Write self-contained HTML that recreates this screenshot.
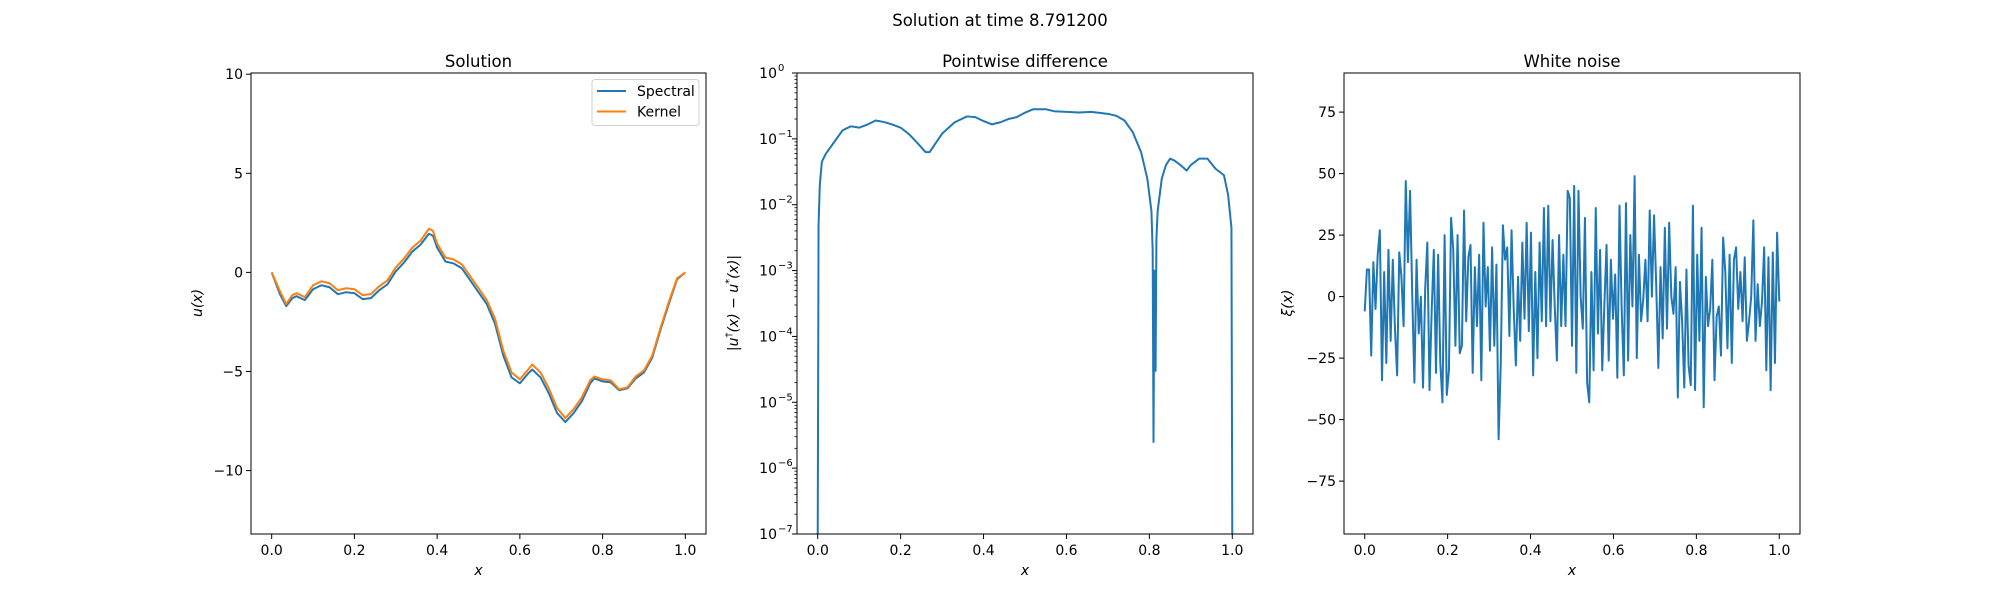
<!DOCTYPE html>
<html><head><meta charset="utf-8">
<style>
html,body{margin:0;padding:0;background:#fff;}
svg{display:block;font-family:"DejaVu Sans","Liberation Sans",sans-serif;}
</style></head>
<body>
<svg id="fig" width="2000" height="600" viewBox="0 0 2000 600" xmlns="http://www.w3.org/2000/svg">
<rect width="2000" height="600" fill="#fff"/>
<text x="1000" y="26" font-size="16.5" text-anchor="middle">Solution at time 8.791200</text>
</svg>
<script>
// ---------- Data ----------
const solX = [0,0.02,0.035,0.05,0.06,0.08,0.1,0.12,0.14,0.16,0.18,0.2,0.22,0.24,0.26,0.28,0.3,0.32,0.34,0.36,0.38,0.39,0.4,0.42,0.44,0.46,0.48,0.5,0.52,0.54,0.56,0.58,0.6,0.62,0.63,0.65,0.67,0.69,0.71,0.73,0.75,0.77,0.78,0.8,0.82,0.84,0.86,0.88,0.9,0.92,0.94,0.96,0.98,1.0];
const spectralY = [0,-1.1,-1.7,-1.3,-1.2,-1.4,-0.85,-0.65,-0.75,-1.1,-1.0,-1.05,-1.35,-1.3,-0.9,-0.6,0.05,0.5,1.05,1.4,1.95,1.85,1.25,0.55,0.45,0.2,-0.4,-1.0,-1.6,-2.6,-4.2,-5.3,-5.6,-5.1,-4.9,-5.3,-6.1,-7.1,-7.55,-7.1,-6.5,-5.6,-5.35,-5.5,-5.55,-5.95,-5.85,-5.35,-5.05,-4.3,-2.9,-1.6,-0.35,0];
const kernelY = [0,-0.95,-1.6,-1.15,-1.05,-1.25,-0.65,-0.45,-0.55,-0.9,-0.8,-0.85,-1.15,-1.1,-0.7,-0.4,0.25,0.7,1.25,1.6,2.2,2.1,1.45,0.75,0.65,0.4,-0.2,-0.8,-1.4,-2.35,-3.95,-5.05,-5.4,-4.9,-4.65,-5.05,-5.85,-6.85,-7.35,-6.9,-6.3,-5.45,-5.25,-5.4,-5.45,-5.9,-5.8,-5.25,-4.95,-4.2,-2.8,-1.5,-0.3,0];
const diffX = [0,0.002,0.005,0.01,0.02,0.04,0.06,0.08,0.1,0.12,0.14,0.16,0.18,0.2,0.22,0.24,0.26,0.27,0.3,0.33,0.36,0.38,0.4,0.42,0.44,0.46,0.48,0.5,0.52,0.55,0.57,0.6,0.63,0.66,0.7,0.72,0.74,0.76,0.78,0.795,0.805,0.808,0.81,0.812,0.815,0.817,0.82,0.83,0.84,0.85,0.86,0.875,0.89,0.9,0.92,0.94,0.96,0.98,0.99,0.998,1.0];
const diffY = [1e-7,5e-3,2e-2,4.5e-2,6e-2,9e-2,0.135,0.155,0.148,0.165,0.19,0.18,0.165,0.148,0.118,0.087,0.063,0.063,0.12,0.178,0.219,0.214,0.186,0.166,0.178,0.2,0.214,0.25,0.282,0.282,0.263,0.257,0.251,0.257,0.24,0.224,0.19,0.126,0.063,0.025,0.008,0.002,2.5e-6,1e-3,3e-5,3e-3,8e-3,0.025,0.04,0.05,0.047,0.04,0.033,0.04,0.05,0.05,0.035,0.028,0.014,0.0045,1e-7];
const noiseY = [-6,11,11,-24,14,-5,17,27,-34,10,-27,19,-18,15,-13,-32,
18,8,-12,47,14,43,1,-35,15,-15,0,-37,3,22,-38,-6,19,-31,17,-27,
-43,25,-40,-30,32,19,-20,25,-23,-20,35,-10,16,21,-31,
12,-12,17,-34,30,-4,12,-22,20,-20,13,-58,-27,29,15,20,-16,27,-5,-28,
8,-18,22,-9,30,-14,
26,-32,10,-25,22,-10,36,-12,37,-10,23,-4,-26,25,-12,17,-12,43,40,-20,
45,-31,43,0,-13,32,-35,-43,10,-30,36,-15,19,-30,-3,21,-26,15,-9,9,
-33,37,-5,-32,38,-26,25,-4,49,-25,17,-10,-1,15,-10,35,0,33,5,-29,
12,-17,28,-13,30,0,-7,12,-41,6,-10,-37,11,-28,-36,37,-38,17,-18,28,
-45,8,-12,-5,15,-34,-8,-4,-24,24,10,-21,17,-27,15,20,-5,10,-10,16,
-18,-10,0,31,-18,5,-12,-2,20,-30,16,-38,18,-27,26,-2];
const xTicks = [0,0.2,0.4,0.6,0.8,1.0];
const xTickLabels = ["0.0","0.2","0.4","0.6","0.8","1.0"];
const solYTicks = [10,5,0,-5,-10];
const solYTickLabels = ["10","5","0","\u22125","\u221210"];
const diffExps = [0,-1,-2,-3,-4,-5,-6,-7];
const noiseYTicks = [75,50,25,0,-25,-50,-75];
const noiseYTickLabels = ["75","50","25","0","\u221225","\u221250","\u221275"];

// ---------- Helpers ----------
const NS = "http://www.w3.org/2000/svg";
const svg = document.getElementById("fig");
function mk(tag, attrs, parent) {
  const e = document.createElementNS(NS, tag);
  for (const k in attrs) e.setAttribute(k, attrs[k]);
  (parent || svg).appendChild(e);
  return e;
}
const TOP = 73, BOT = 534;
const blue = "#1f77b4", orange = "#ff7f0e";

function makePanel(name, left, right, xmin, xmax, title) {
  const g = mk("g", {});
  
  
  const sx = v => left + (v - xmin) / (xmax - xmin) * (right - left);
  const t = mk("text", {x: (left + right) / 2, y: 67, "font-size": 16.5, "text-anchor": "middle"}, g);
  t.textContent = title;
  
  
  xTicks.forEach((v, i) => {
    const x = sx(v);
    const tk = mk("line", {x1: x, x2: x, y1: BOT, y2: BOT + 5, stroke: "#000", "stroke-width": 1}, g);
    
    
    const tl = mk("text", {x: x, y: BOT + 21, "font-size": 14, "text-anchor": "middle"}, g);
    tl.textContent = xTickLabels[i];
    
    
  });
  const xl = mk("text", {x: (left + right) / 2, y: 575, "font-size": 14, "text-anchor": "middle", "font-style": "italic"}, g);
  xl.textContent = "x";
  
  
  return {g, sx};
}
function frame(g, left, right) {
  const r = mk("rect", {x: left, y: TOP, width: right - left, height: BOT - TOP, fill: "none", stroke: "#000", "stroke-width": 1}, g);
  
  
}
function poly(g, xs, ys, sx, sy, color, name) {
  const d = xs.map((v, i) => (i ? "L" : "M") + sx(v).toFixed(2) + "," + sy(ys[i]).toFixed(2)).join("");
  const p = mk("path", {d: d, fill: "none", stroke: color, "stroke-width": 2, "stroke-linejoin": "round"}, g);
  
  
  return p;
}
function ylabel(g, x, html, name) {
  const t = mk("text", {x: x, y: 303, "font-size": 14, "text-anchor": "middle", transform: "rotate(-90 " + x + " 303)", "font-style": "italic"}, g);
  t.innerHTML = html;
  
  
}

// ---------- Panel 1: Solution ----------
(function () {
  const L = 251, R = 706, ymin = -13.2, ymax = 10.06;
  const {g, sx} = makePanel("solution", L, R, -0.05, 1.05, "Solution");
  const sy = v => BOT - (v - ymin) / (ymax - ymin) * (BOT - TOP);
  solYTicks.forEach((v, i) => {
    const y = sy(v);
    const tk = mk("line", {x1: L - 5, x2: L, y1: y, y2: y, stroke: "#000"}, g);
    
    
    const tl = mk("text", {x: L - 8, y: y + 5, "font-size": 14, "text-anchor": "end"}, g);
    tl.textContent = solYTickLabels[i];
    
    
  });
  ylabel(g, 202, "u(x)", "y-axis-title");
  poly(g, solX, spectralY, sx, sy, blue, "spectral-line");
  poly(g, solX, kernelY, sx, sy, orange, "kernel-line");
  frame(g, L, R);
  const lg = mk("g", {}, g);
  
  
  mk("rect", {x: 592, y: 79.5, width: 107, height: 46, rx: 3, fill: "#fff", stroke: "#d0d0d0"}, lg);
  [["Spectral", blue, 91], ["Kernel", orange, 111.5]].forEach(([lab, c, y]) => {
    const e = mk("g", {}, lg);
    
    
    mk("line", {x1: 597, x2: 626, y1: y, y2: y, stroke: c, "stroke-width": 2}, e);
    const t = mk("text", {x: 637, y: y + 5, "font-size": 14}, e);
    t.textContent = lab;
  });
})();

// ---------- Panel 2: Pointwise difference ----------
(function () {
  const L = 797, R = 1253, lmin = -7, lmax = 0;
  const {g, sx} = makePanel("difference", L, R, -0.05, 1.05, "Pointwise difference");
  const sy = v => BOT - (Math.log10(v) - lmin) / (lmax - lmin) * (BOT - TOP);
  diffExps.forEach(e => {
    const y = sy(Math.pow(10, e));
    const tk = mk("line", {x1: L - 5, x2: L, y1: y, y2: y, stroke: "#000"}, g);
    
    
    const tl = mk("text", {x: L - 20, y: y + 5, "font-size": 14, "text-anchor": "end"}, g);
    tl.textContent = "10";
    
    
    const sp = mk("text", {x: L - 19, y: y - 2, "font-size": 10, "text-anchor": "start"}, g);
    sp.textContent = e === 0 ? "0" : "\u2212" + (-e);
    if (e < 0) {
      for (let m = 2; m <= 9; m++) {
        const ym = sy(m * Math.pow(10, e));
        const mt = mk("line", {x1: L - 2.5, x2: L, y1: ym, y2: ym, stroke: "#000", "stroke-width": 0.8}, g);
        
        
      }
    }
  });
  ylabel(g, 738, '|u<tspan dy="-6" font-size="10" font-style="normal">\u2020</tspan><tspan dy="6">(x) \u2212 u</tspan><tspan dy="-6" font-size="10" font-style="normal">*</tspan><tspan dy="6">(x)|</tspan>', "y-axis-title");
  poly(g, diffX, diffY, sx, sy, blue, "difference-line");
  frame(g, L, R);
})();

// ---------- Panel 3: White noise ----------
(function () {
  const L = 1344, R = 1800, ymin = -96.5, ymax = 90.9;
  const {g, sx} = makePanel("noise", L, R, -0.05, 1.05, "White noise");
  const sy = v => BOT - (v - ymin) / (ymax - ymin) * (BOT - TOP);
  noiseYTicks.forEach((v, i) => {
    const y = sy(v);
    const tk = mk("line", {x1: L - 5, x2: L, y1: y, y2: y, stroke: "#000"}, g);
    
    
    const tl = mk("text", {x: L - 8, y: y + 5, "font-size": 14, "text-anchor": "end"}, g);
    tl.textContent = noiseYTickLabels[i];
    
    
  });
  ylabel(g, 1292, "\u03be(x)", "y-axis-title");
  const nx = noiseY.map((_, i) => i / (noiseY.length - 1));
  poly(g, nx, noiseY, sx, sy, blue, "noise-line");
  frame(g, L, R);
})();
</script>
</body></html>
